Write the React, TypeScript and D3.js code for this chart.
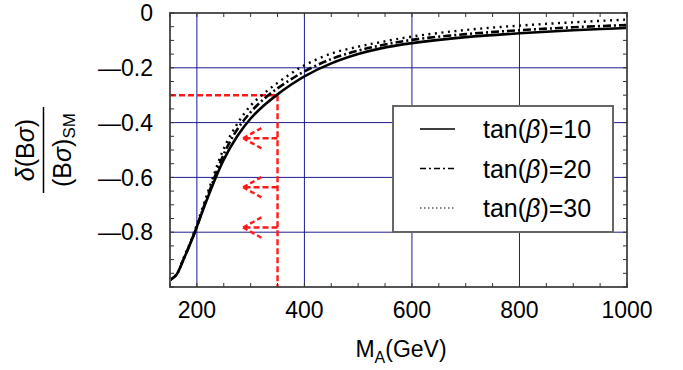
import { useMemo } from "react";
import * as d3 from "d3";

// Plot frame in px
const MARGIN = { top: 13, right: 56, bottom: 83, left: 170 };
const WIDTH = 683;
const HEIGHT = 370;
const TICK_LENGTH = 4;

const FONT = "'Liberation Sans', Arial, Helvetica, sans-serif";

// M_A values (GeV) where the curves were read
const massPoints = [150, 162, 175, 187, 198, 215, 230, 250, 275, 300, 325, 350, 375, 400, 450, 500, 540, 600, 700, 800, 900, 1000];
// delta(B sigma)/(B sigma)_SM for each tan(beta)
const tanBeta10 = [-0.975, -0.955, -0.9, -0.845, -0.79, -0.7, -0.625, -0.535, -0.45, -0.385, -0.337, -0.297, -0.262, -0.231, -0.184, -0.15, -0.13, -0.11, -0.088, -0.074, -0.063, -0.055];
const tanBeta20 = [-0.975, -0.955, -0.9, -0.845, -0.79, -0.695, -0.615, -0.515, -0.425, -0.362, -0.313, -0.275, -0.242, -0.213, -0.168, -0.137, -0.119, -0.098, -0.077, -0.063, -0.052, -0.044];
const tanBeta30 = [-0.975, -0.955, -0.895, -0.84, -0.783, -0.685, -0.6, -0.495, -0.405, -0.338, -0.293, -0.255, -0.221, -0.191, -0.148, -0.123, -0.107, -0.086, -0.062, -0.046, -0.034, -0.024];

const seriesLabels = ["10", "20", "30"];

const xTicks = [200, 400, 600, 800, 1000];
const yTicks = [0, -0.2, -0.4, -0.6, -0.8];

// red cut: M_A = 350 GeV, -30 %
const cutMass = 350;
const cutValue = -0.3;
const arrowLevels = [-0.457, -0.636, -0.783];
const arrowTipMass = 286;
const arrowBarbMass = 320;
const arrowBarbSpread = 0.037;

const STYLES = [
  { dash: undefined, width: 2.6, legendDash: undefined, legendWidth: 1.3 },
  { dash: "8 3 2 3", width: 2.6, legendDash: "6 3 2 3", legendWidth: 1.5 },
  { dash: "2 4.5", width: 2.4, legendDash: "1.5 2.5", legendWidth: 1.2 },
];

export default function App() {
  const boundsWidth = WIDTH - MARGIN.left - MARGIN.right;
  const boundsHeight = HEIGHT - MARGIN.top - MARGIN.bottom;

  const xScale = useMemo(
    () => d3.scaleLinear().domain([150, 1000]).range([MARGIN.left, MARGIN.left + boundsWidth]),
    []
  );
  const yScale = useMemo(
    () => d3.scaleLinear().domain([-1, 0]).range([MARGIN.top + boundsHeight, MARGIN.top]),
    []
  );

  const paths = useMemo(() => {
    const line = d3
      .line<number>()
      .x((_, i) => xScale(massPoints[i]))
      .y((d) => yScale(d))
      .curve(d3.curveCatmullRom.alpha(0.5));
    return [tanBeta10, tanBeta20, tanBeta30].map((s) => line(s) || "");
  }, [xScale, yScale]);

  const x0 = xScale.range()[0];
  const x1 = xScale.range()[1];
  const y0 = yScale.range()[1];
  const y1 = yScale.range()[0];

  const xMinor = d3.range(150, 1001, 50);
  const yMinor = d3.range(-1, 0.0001, 0.05);

  const red = "#ff1a1a";
  const grid = "#1c1c8f";

  // legend box
  const lg = { x: 393, y: 106, w: 220, h: 126 };

  return (
    <svg width={WIDTH} height={HEIGHT} style={{ position: "absolute", left: 0, top: 0, background: "#fff" }}>
      {/* grid */}
      {xTicks.filter((t) => t < 1000).map((t) => (
        <line key={"gx" + t} x1={xScale(t)} x2={xScale(t)} y1={y0} y2={y1} stroke={grid} strokeWidth={1} />
      ))}
      {yTicks.filter((t) => t < 0).map((t) => (
        <line key={"gy" + t} x1={x0} x2={x1} y1={yScale(t)} y2={yScale(t)} stroke={grid} strokeWidth={1} />
      ))}

      {/* red cut lines */}
      <g stroke={red} strokeWidth={2.4} strokeDasharray="6 3" fill="none">
        <line x1={x0} x2={xScale(cutMass)} y1={yScale(cutValue)} y2={yScale(cutValue)} />
        <line x1={xScale(cutMass)} x2={xScale(cutMass)} y1={yScale(cutValue)} y2={y1} />
        {arrowLevels.map((v) => (
          <g key={v}>
            <line x1={xScale(cutMass)} x2={xScale(arrowTipMass)} y1={yScale(v)} y2={yScale(v)} />
            <line x1={xScale(arrowTipMass)} x2={xScale(arrowBarbMass)} y1={yScale(v)} y2={yScale(v + arrowBarbSpread)} strokeDasharray="5 3" />
            <line x1={xScale(arrowTipMass)} x2={xScale(arrowBarbMass)} y1={yScale(v)} y2={yScale(v - arrowBarbSpread)} strokeDasharray="5 3" />
          </g>
        ))}
      </g>

      {/* curves */}
      {paths.map((d, i) => (
        <path key={i} d={d} fill="none" stroke="#000" strokeWidth={STYLES[i].width} strokeDasharray={STYLES[i].dash} strokeLinejoin="round" />
      ))}

      {/* legend */}
      <rect x={lg.x} y={lg.y} width={lg.w} height={lg.h} fill="#fff" stroke="#666" strokeWidth={2} />
      {seriesLabels.map((lab, i) => {
        const cy = 129 + i * 39.5;
        return (
          <g key={lab}>
            <line x1={420} x2={455} y1={cy} y2={cy} stroke="#000" strokeWidth={STYLES[i].legendWidth} strokeDasharray={STYLES[i].legendDash} />
            <text x={483} y={cy + 9} fontFamily={FONT} fontSize={25} fill="#000">
              tan(<tspan fontStyle="italic">β</tspan>)=
              {lab}
            </text>
          </g>
        );
      })}

      {/* frame */}
      <rect x={x0} y={y0} width={x1 - x0} height={y1 - y0} fill="none" stroke="#555" strokeWidth={2} />

      {/* ticks */}
      <g stroke="#333" strokeWidth={1}>
        {xMinor.map((t) => (
          <g key={"tx" + t}>
            <line x1={xScale(t)} x2={xScale(t)} y1={y1} y2={y1 - TICK_LENGTH} />
            <line x1={xScale(t)} x2={xScale(t)} y1={y0} y2={y0 + TICK_LENGTH} />
          </g>
        ))}
        {yMinor.map((t) => (
          <g key={"ty" + t}>
            <line x1={x0} x2={x0 + TICK_LENGTH} y1={yScale(t)} y2={yScale(t)} />
            <line x1={x1} x2={x1 - TICK_LENGTH} y1={yScale(t)} y2={yScale(t)} />
          </g>
        ))}
      </g>

      {/* tick labels */}
      {xTicks.map((t) => (
        <text key={"lx" + t} x={xScale(t)} y={318} textAnchor="middle" fontFamily={FONT} fontSize={23} fill="#000">
          {t}
        </text>
      ))}
      {yTicks.map((t) => (
        <text key={"ly" + t} x={153} y={yScale(t)} dy="0.36em" textAnchor="end" fontFamily={FONT} fontSize={23} fill="#000">
          {t === 0 ? "0" : "—" + Math.abs(t).toFixed(1)}
        </text>
      ))}

      {/* x title */}
      <text x={401} y={357} textAnchor="middle" fontFamily={FONT} fontSize={23} fill="#000">
        M<tspan fontSize={16} dy={6}>A</tspan>
        <tspan dy={-6}>(GeV)</tspan>
      </text>

      {/* y title as fraction */}
      <g transform="translate(0,150) rotate(-90)" fontFamily={FONT} fill="#000">
        <text x={0} y={34} textAnchor="middle" fontSize={25}>
          <tspan fontStyle="italic">δ</tspan>(B<tspan fontStyle="italic">σ</tspan>)
        </text>
        <line x1={-43} x2={43} y1={43.5} y2={43.5} stroke="#000" strokeWidth={1.5} />
        <text x={0} y={71} textAnchor="middle" fontSize={25}>
          (B<tspan fontStyle="italic">σ</tspan>)<tspan fontSize={17} dy={4}>SM</tspan>
        </text>
      </g>
    </svg>
  );
}
